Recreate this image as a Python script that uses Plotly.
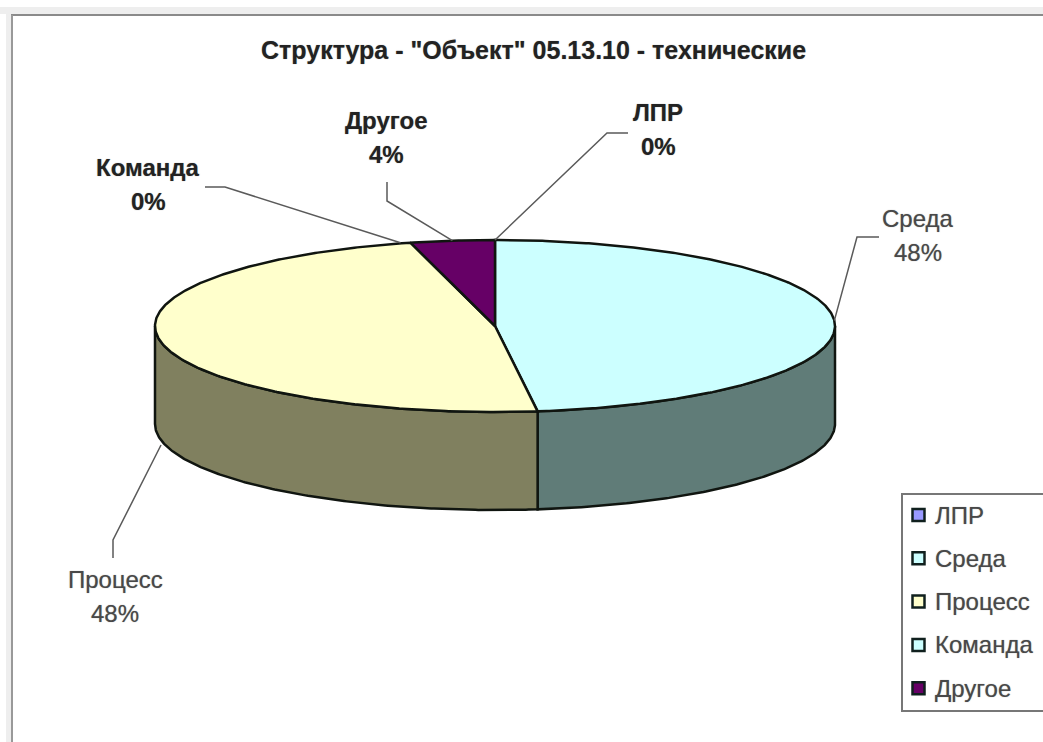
import math
import plotly.graph_objects as go

# ---- data ----
categories = ["ЛПР", "Среда", "Процесс", "Команда", "Другое"]
values = [0, 48, 48, 0, 4]
chart_title = 'Структура - "Объект" 05.13.10 - технические'

# ---- styles ----
top_colors = ["#9999FF", "#CCFFFF", "#FFFFCC", "#CCFFFF", "#660066"]
side_colors = ["#666680", "#607C78", "#80805F", "#668080", "#330033"]
bold_labels = [True, False, False, True, True]

# ---- layout (pixel scale of the picture) ----
W, H = 1043, 742
CX, CY, RX, RY, DEPTH = 495, 326, 340, 86, 98
INK = "#101510"
FONT = "Liberation Sans"
SHADOW = "0 0 1px rgba(60,60,60,0.55)"
label_centre = {"ЛПР": (658, 129), "Среда": (918, 235), "Процесс": (115, 596),
                "Команда": (148, 184), "Другое": (386, 137)}
label_elbow = {"ЛПР": [(628, 133), (607, 133)], "Среда": [(879, 237), (857, 237)],
               "Процесс": [(113, 558), (113, 540)], "Команда": [(205, 187), (225, 187)],
               "Другое": [(387, 182), (387, 201)]}
legend_box = (902, 494, 1060, 711)
legend_first_y, legend_step = 515, 43.3


def rim(deg, drop=0):
    a = math.radians(deg)
    return CX + RX * math.sin(a), CY - RY * math.cos(a) + drop


def arc(a0, a1, drop=0):
    n = max(2, int(abs(a1 - a0) * 2))
    return [rim(a0 + (a1 - a0) * i / n, drop) for i in range(n + 1)]


fig = go.Figure()
total = sum(values)
start = 0.0
spans = []
for v in values:
    end = start + 360.0 * v / total
    spans.append((start, end))
    start = end

# side walls: only the front half of the disc shows
for name, (a0, a1), col in zip(categories, spans, side_colors):
    lo, hi = max(a0, 90), min(a1, 270)
    if hi <= lo:
        continue
    pts = arc(lo, hi) + arc(hi, lo, DEPTH)
    pts.append(pts[0])
    fig.add_trace(go.Scatter(x=[p[0] for p in pts], y=[p[1] for p in pts], mode="lines",
                             fill="toself", fillcolor=col, line=dict(color=INK, width=2.5),
                             name=name + " (side)", showlegend=False, hoverinfo="skip"))
# top faces
for name, (a0, a1), col in zip(categories, spans, top_colors):
    if a1 <= a0:
        continue
    pts = [(CX, CY)] + arc(a0, a1) + [(CX, CY)]
    fig.add_trace(go.Scatter(x=[p[0] for p in pts], y=[p[1] for p in pts], mode="lines",
                             fill="toself", fillcolor=col, line=dict(color=INK, width=2.5),
                             name=name, showlegend=False, hoverinfo="name"))

# leader lines and data labels
ann = []
for name, v, (a0, a1), bold in zip(categories, values, spans, bold_labels):
    mid = (a0 + a1) / 2
    ax, ay = rim(mid, DEPTH * 1.05 if 180 < mid < 300 else 0)
    if 340 < mid < 350:
        ax -= 10
    el = label_elbow[name]
    fig.add_trace(go.Scatter(x=[el[0][0], el[1][0], ax], y=[el[0][1], el[1][1], ay], mode="lines",
                             line=dict(color="#5A5A5A", width=1.5), showlegend=False, hoverinfo="skip"))
    lx, ly = label_centre[name]
    size = 24
    colour = "#222222" if bold else "#484848"
    for text, dy in ((name, -17), (f"{v}%", 17)):
        ann.append(dict(x=lx, y=ly + dy, text=text, showarrow=False, xanchor="center", yanchor="middle",
                        font=dict(family=FONT, size=size, color=colour,
                                  weight=700 if bold else 400, shadow=SHADOW)))

ann.append(dict(x=533, y=50, text=chart_title, showarrow=False, xanchor="center", yanchor="middle",
                font=dict(family=FONT, size=25, color="#222222", weight=700, shadow=SHADOW)))

# legend
x0, y0, x1, y1 = legend_box
for i, (name, col) in enumerate(zip(categories, top_colors)):
    y = legend_first_y + i * legend_step
    fig.add_trace(go.Scatter(x=[918.5], y=[y], mode="markers", showlegend=False, hoverinfo="name", name=name,
                             marker=dict(symbol="square", size=12, color=col,
                                         line=dict(color="#10201E", width=2.5))))
    ann.append(dict(x=933, y=y, text=name, showarrow=False, xanchor="left", yanchor="middle",
                    font=dict(family=FONT, size=24, color="#484848", shadow=SHADOW)))

shapes = [
    dict(type="rect", x0=0, x1=W, y0=7, y1=14, fillcolor="#EEEEEE", line_width=0, layer="below"),
    dict(type="rect", x0=6, x1=11, y0=7, y1=H, fillcolor="#EEEEEE", line_width=0, layer="below"),
    dict(type="line", x0=11, x1=W, y0=15, y1=15, line=dict(color="#8A8A8A", width=2), layer="below"),
    dict(type="line", x0=12, x1=12, y0=15, y1=H, line=dict(color="#999999", width=2), layer="below"),
    dict(type="rect", x0=x0, x1=x1, y0=y0, y1=y1, fillcolor="#FFFFFF",
         line=dict(color="#777777", width=2), layer="below"),
]

fig.update_layout(
    width=W, height=H, margin=dict(l=0, r=0, t=0, b=0),
    paper_bgcolor="#FFFFFF", plot_bgcolor="#FFFFFF",
    xaxis=dict(range=[0, W], visible=False, fixedrange=True),
    yaxis=dict(range=[H, 0], visible=False, fixedrange=True),
    shapes=shapes, annotations=ann, showlegend=False,
)
fig.write_html("out.html", config={"displayModeBar": False},
               post_script="document.body.style.margin='0';document.body.style.overflow='hidden';")
